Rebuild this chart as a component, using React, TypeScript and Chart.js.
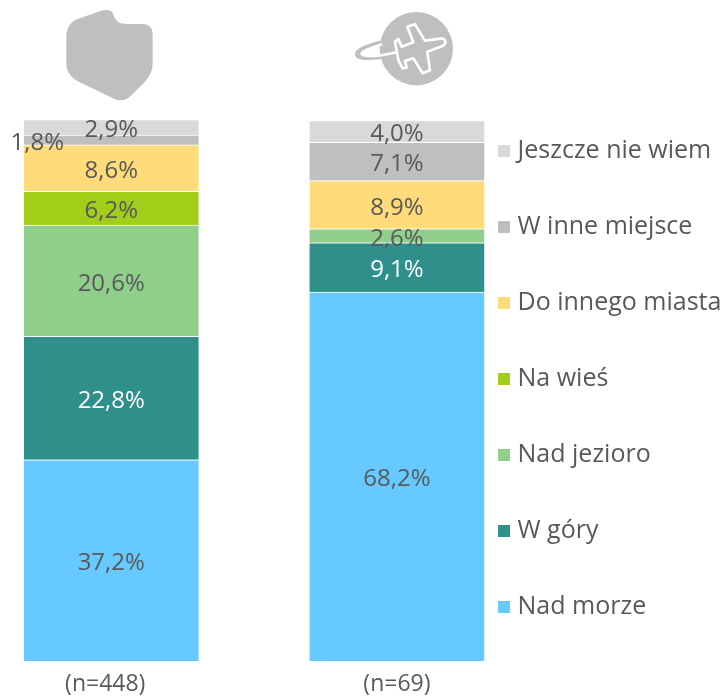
import React, { useEffect, useRef } from "react";
import { Chart, registerables } from "chart.js";
Chart.register(...registerables);

const groups = ["(n=448)", "(n=69)"];
const seriesNames = ["Nad morze", "W góry", "Nad jezioro", "Na wieś", "Do innego miasta", "W inne miejsce", "Jeszcze nie wiem"];
const nadMorze = [37.2, 68.2];
const wGory = [22.8, 9.1];
const nadJezioro = [20.6, 2.6];
const naWies = [6.2, null];
const doInnegoMiasta = [8.6, 8.9];
const wInneMiejsce = [1.8, 7.1];
const jeszczeNieWiem = [2.9, 4.0];
const seriesValues = [nadMorze, wGory, nadJezioro, naWies, doInnegoMiasta, wInneMiejsce, jeszczeNieWiem];
const seriesColors = ["#66C9FF", "#2F8F8B", "#8FCF8B", "#A0CE19", "#FFDB79", "#BFBFBF", "#D9D9D9"];
const labelColors = ["#595959", "#FFFFFF", "#595959", "#595959", "#595959", "#595959", "#595959"];

const FONT = "'Open Sans'";
const dataLabels = {
  id: "dataLabels",
  afterDatasetsDraw(chart: any) {
    const ctx = chart.ctx;
    ctx.save();
    ctx.font = `24px ${FONT}`;
    ctx.textAlign = "center";
    ctx.textBaseline = "middle";
    seriesValues.forEach((vals, ds) => {
      const meta = chart.getDatasetMeta(ds);
      vals.forEach((v, i) => {
        if (v == null) return;
        const el = meta.data[i];
        const c = el.getCenterPoint();
        const shift = ds === 5 && i === 0 ? -74 : 0;
        ctx.fillStyle = labelColors[ds];
        ctx.fillText(v.toFixed(1).replace(".", ",") + "%", c.x + shift, c.y + 3);
      });
    });
    ctx.restore();
  },
};

export default function App() {
  const ref = useRef<HTMLCanvasElement>(null);
  useEffect(() => {
    const chart = new Chart(ref.current!, {
      type: "bar",
      data: {
        datasets: seriesValues.map((vals, i) => ({
          label: seriesNames[i],
          data: vals.map((v, k) => ({ x: k, y: v })),
          backgroundColor: seriesColors[i],
          borderColor: "#FFFFFF",
          borderWidth: 1,
          barThickness: 176,
          clip: false,
        })),
      } as any,
      plugins: [dataLabels],
      options: {
        animation: false,
        responsive: false,
        layout: { padding: { top: 60, right: -6.4, left: 0, bottom: 2 } },
        scales: {
          x: {
            type: "linear",
            stacked: true,
            offset: false,
            min: -111 / 285,
            max: (451 - 111) / 285,
            afterBuildTicks: (s: any) => { s.ticks = [{ value: -0.021 }, { value: 1 }]; },
            afterFit: (s: any) => { s.height = 37; },
            ticks: {
              autoSkip: false,
              maxRotation: 0,
              padding: 10,
              color: "#595959",
              font: { family: FONT, size: 23 },
              callback: (_v: any, i: number) => groups[i],
            },
            grid: { display: false, tickLength: 0 },
            border: { display: false },
          },
          y: { display: false, stacked: true, min: 0, max: 111.1 },
        },
        plugins: {
          tooltip: { enabled: false },
          legend: {
            position: "right",
            reverse: true,
            labels: {
              boxWidth: 2,
              boxHeight: 2,
              padding: 51,
              color: "#595959",
              font: { family: FONT, size: 25 },
              generateLabels: (c: any) =>
                Chart.defaults.plugins.legend.labels.generateLabels(c).map((it: any) => ({
                  ...it,
                  lineWidth: 10,
                  strokeStyle: it.fillStyle,
                })),
            },
          },
        },
      } as any,
    });
    return () => chart.destroy();
  }, []);
  return (
    <div style={{ position: "absolute", left: 0, top: 0, width: 725, height: 700 }}>
      <canvas ref={ref} width={725} height={700} style={{ display: "block" }} />
      <svg width={725} height={110} style={{ position: "absolute", left: 0, top: 0 }}>
        <path
          transform="scale(0.3333)"
          fill="#BFBFBF"
          d="M199 110 C199 80 215 62 235 56 L308 31 C325 27 338 32 341 45 C345 62 358 72 380 72 L428 72 C448 72 458 85 458 102 L458 190 C458 212 448 232 432 248 L392 288 C378 302 360 304 342 296 L238 246 C212 234 199 214 199 190 Z"
        />
        <g transform="translate(350,5) scale(0.3333)">
          <circle cx="199" cy="131" r="110" fill="#BFBFBF" />
          <path d="M92 114 C45 127 15 140 24 151 C35 165 90 157 145 146" fill="none" stroke="#BFBFBF" strokeWidth="15" />
          <path d="M96 118 C60 128 28 141 36 149 C48 158 95 152 145 141" fill="none" stroke="#FFFFFF" strokeWidth="7" />
          <path
            d="M272 101 C290 100 292 118 272 125 L232 140 L240 196 L218 205 L190 160 L165 168 L170 188 L158 190 L145 165 L135 110 L145 102 L155 125 L190 112 L172 65 L195 58 L225 107 Z"
            fill="#BFBFBF"
            stroke="#FFFFFF"
            strokeWidth="8"
            strokeLinejoin="round"
          />
        </g>
      </svg>
    </div>
  );
}
